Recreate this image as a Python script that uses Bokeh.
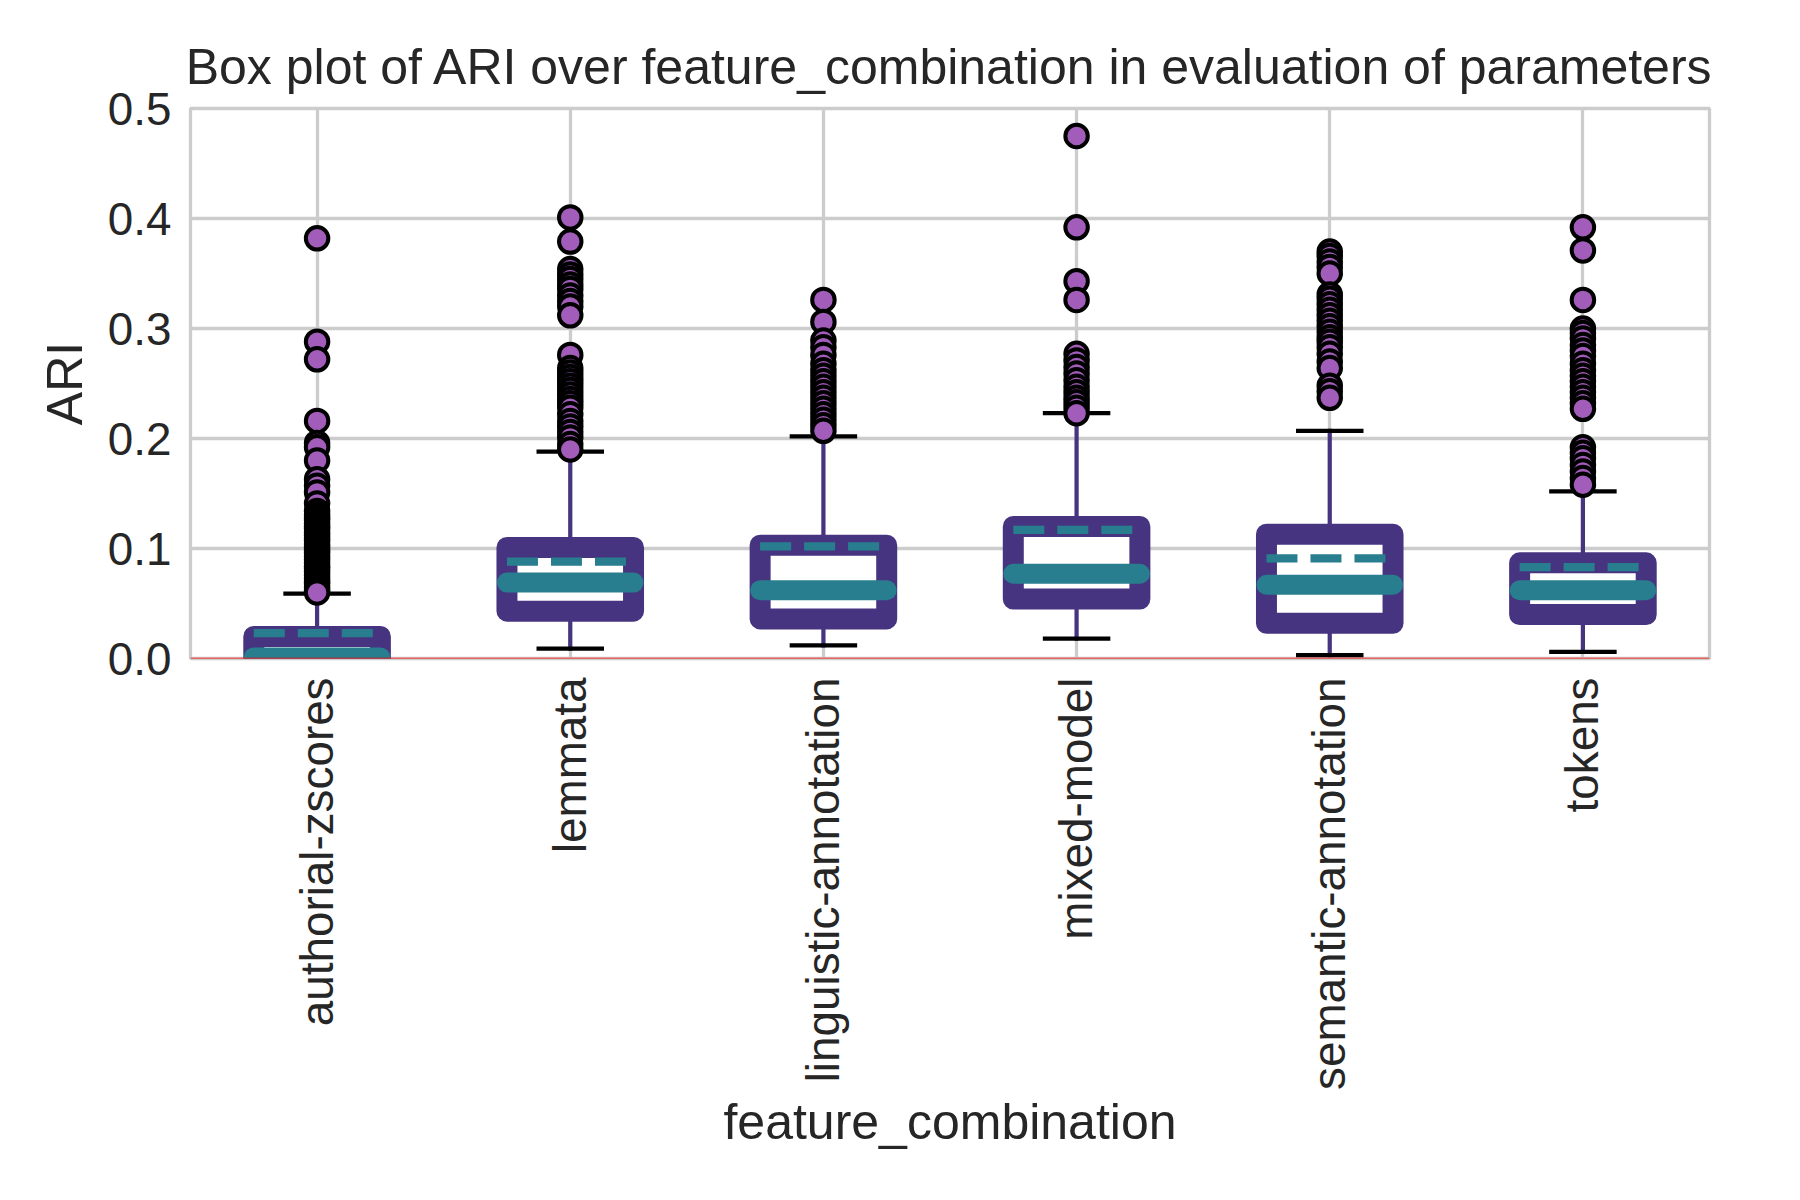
import math
from bokeh.plotting import figure
from bokeh.models import FactorRange, Range1d, ColumnDataSource, FixedTicker, PrintfTickFormatter, Span
from bokeh.transform import dodge
from bokeh.embed import file_html
from bokeh.resources import INLINE

categories = ["authorial-zscores", "lemmata", "linguistic-annotation",
              "mixed-model", "semantic-annotation", "tokens"]
q1 = [-0.007, 0.043, 0.036, 0.054, 0.032, 0.040]
median = [0.001, 0.069, 0.062, 0.077, 0.067, 0.062]
q3 = [0.020, 0.101, 0.103, 0.120, 0.113, 0.087]
mean = [0.023, 0.088, 0.102, 0.117, 0.091, 0.083]
whisker_lo = [-0.040, 0.009, 0.012, 0.018, 0.003, 0.006]
whisker_hi = [0.059, 0.188, 0.202, 0.223, 0.207, 0.152]

outliers_authorial = [0.382, 0.288, 0.272, 0.216, 0.196, 0.192, 0.180, 0.163, 0.157,
                      0.151, 0.141, 0.134, 0.131, 0.128, 0.126, 0.123, 0.120, 0.118,
                      0.115, 0.112, 0.109, 0.107, 0.104, 0.101, 0.098, 0.096, 0.093,
                      0.090, 0.087, 0.084, 0.082, 0.079, 0.076, 0.073, 0.070, 0.068,
                      0.065, 0.062, 0.060]
outliers_lemmata = [0.401, 0.379, 0.354, 0.349, 0.345, 0.340, 0.336, 0.330, 0.325,
                    0.320, 0.312, 0.276, 0.264, 0.260, 0.256, 0.252, 0.248, 0.244,
                    0.240, 0.236, 0.232, 0.228, 0.222, 0.216, 0.211, 0.206, 0.201,
                    0.195, 0.190]
outliers_linguistic = [0.326, 0.306, 0.289, 0.283, 0.276, 0.268, 0.262, 0.257, 0.252,
                       0.247, 0.242, 0.237, 0.232, 0.227, 0.222, 0.217, 0.212, 0.207]
outliers_mixed = [0.475, 0.392, 0.343, 0.326, 0.277, 0.271, 0.265, 0.259, 0.253,
                  0.247, 0.242, 0.237, 0.233, 0.228, 0.223]
outliers_semantic = [0.370, 0.366, 0.361, 0.356, 0.350, 0.331, 0.327, 0.322, 0.317,
                     0.312, 0.307, 0.302, 0.297, 0.292, 0.288, 0.283, 0.277, 0.270,
                     0.264, 0.248, 0.243, 0.237]
outliers_tokens = [0.392, 0.371, 0.326, 0.300, 0.296, 0.291, 0.285, 0.280, 0.275,
                   0.268, 0.262, 0.257, 0.252, 0.247, 0.242, 0.237, 0.232, 0.227,
                   0.192, 0.187, 0.182, 0.176, 0.170, 0.164, 0.158]
outliers = [outliers_authorial, outliers_lemmata, outliers_linguistic,
            outliers_mixed, outliers_semantic, outliers_tokens]

yticks = [0.0, 0.1, 0.2, 0.3, 0.4, 0.5]

PURPLE = "#473481"
TEAL = "#287e8e"
FLIER = "#a25cb9"
GRID = "#cccccc"
TEXT = "#262626"
FONT = "Liberation Sans"

src = ColumnDataSource(dict(cats=categories, q1=q1, med=median, q3=q3, mean=mean,
                            wlo=whisker_lo, whi=whisker_hi))
fx, fy = [], []
for c, vals in zip(categories, outliers):
    fx.extend([c] * len(vals))
    fy.extend(vals)
fsrc = ColumnDataSource(dict(x=fx, y=fy))

p = figure(width=1800, height=1200,
           x_range=FactorRange(factors=categories, range_padding=0),
           y_range=Range1d(0, 0.5),
           output_backend="svg", toolbar_location=None,
           min_border_left=190, min_border_right=91,
           min_border_top=108, min_border_bottom=542)
p.background_fill_color = "white"
p.border_fill_color = "white"

# whiskers
p.segment(x0="cats", y0="q3", x1="cats", y1="whi", source=src,
          line_color=PURPLE, line_width=4.2, line_cap="square")
p.segment(x0="cats", y0="q1", x1="cats", y1="wlo", source=src,
          line_color=PURPLE, line_width=4.2, line_cap="square")
# caps
left_c = dodge("cats", -0.125, range=p.x_range)
right_c = dodge("cats", 0.125, range=p.x_range)
p.segment(x0=left_c, x1=right_c, y0="whi", y1="whi", source=src,
          line_color="black", line_width=4.2, line_cap="square")
p.segment(x0=left_c, x1=right_c, y0="wlo", y1="wlo", source=src,
          line_color="black", line_width=4.2, line_cap="square")
# boxes
p.vbar(x="cats", width=0.5, top="q3", bottom="q1", source=src,
       fill_color="white", line_color=PURPLE, line_width=21, line_join="round")
# medians
left_b = dodge("cats", -0.25, range=p.x_range)
right_b = dodge("cats", 0.25, range=p.x_range)
p.segment(x0=left_b, x1=right_b, y0="med", y1="med", source=src,
          line_color=TEAL, line_width=20, line_cap="round")
# means
p.segment(x0=left_b, x1=right_b, y0="mean", y1="mean", source=src,
          line_color=TEAL, line_width=8.3, line_dash="31 13", line_cap="butt")
# fliers
p.scatter(x="x", y="y", source=fsrc, size=22.5, fill_color=FLIER,
          line_color="black", line_width=4)

p.add_layout(Span(location=0, dimension="width", line_color="#ff0000", line_width=1.3))

# grid and frame
p.xgrid.grid_line_color = GRID
p.ygrid.grid_line_color = GRID
p.xgrid.grid_line_width = 3.3
p.ygrid.grid_line_width = 3.3
p.outline_line_color = GRID
p.outline_line_width = 3.3

# axes
p.yaxis.ticker = FixedTicker(ticks=yticks)
p.yaxis.formatter = PrintfTickFormatter(format="%.1f")
for ax in (p.xaxis[0], p.yaxis[0]):
    ax.axis_line_color = None
    ax.major_tick_line_color = None
    ax.minor_tick_line_color = None
    ax.major_tick_out = 0
    ax.major_tick_in = 0
    ax.minor_tick_out = 0
    ax.major_label_text_font = FONT
    ax.major_label_text_font_size = "45.8px"
    ax.major_label_text_color = TEXT
    ax.axis_label_text_font = FONT
    ax.axis_label_text_font_size = "50px"
    ax.axis_label_text_font_style = "normal"
    ax.axis_label_text_color = TEXT
p.xaxis.major_label_orientation = math.pi / 2
p.xaxis.major_label_standoff = 19
p.yaxis.major_label_standoff = 19
p.xaxis.axis_label = "feature_combination"
p.yaxis.axis_label = "ARI"
p.xaxis.axis_label_standoff = 1
p.yaxis.axis_label_standoff = 12

p.title.text = "Box plot of ARI over feature_combination in evaluation of parameters"
p.title.align = "center"
p.title.text_font = FONT
p.title.text_font_size = "50px"
p.title.text_font_style = "normal"
p.title.text_color = TEXT
p.title.standoff = 28

open("out.html", "w").write(file_html(p, INLINE))
